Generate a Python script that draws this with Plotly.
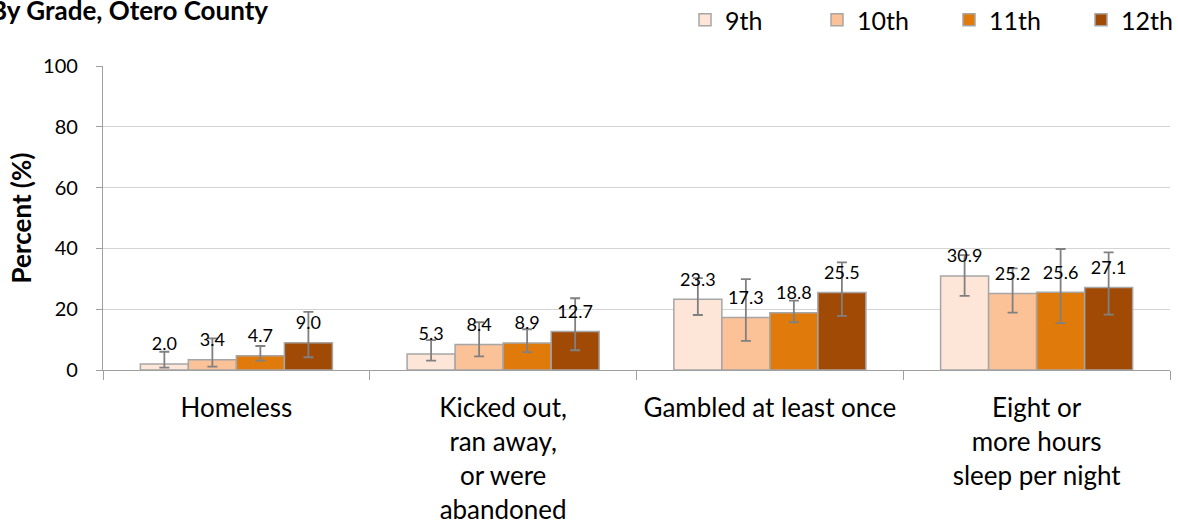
import plotly.graph_objects as go

categories = [
    "Homeless",
    "Kicked out,<br>ran away,<br>or were<br>abandoned",
    "Gambled at least once",
    "Eight or<br>more hours<br>sleep per night",
]
grades = ["9th", "10th", "11th", "12th"]

values = {
    "9th": [2.0, 5.3, 23.3, 30.9],
    "10th": [3.4, 8.4, 17.3, 25.2],
    "11th": [4.7, 8.9, 18.8, 25.6],
    "12th": [9.0, 12.7, 25.5, 27.1],
}
ci_upper = {
    "9th": [6.0, 9.8, 30.2, 37.8],
    "10th": [10.4, 15.7, 29.9, 33.4],
    "11th": [7.9, 13.4, 22.8, 39.8],
    "12th": [19.1, 23.6, 35.4, 38.7],
}
ci_lower = {
    "9th": [0.8, 3.1, 18.1, 24.4],
    "10th": [1.1, 4.5, 9.6, 18.9],
    "11th": [3.1, 5.9, 15.7, 15.4],
    "12th": [4.2, 6.5, 17.8, 18.2],
}
colors = {
    "9th": "#FDE5D7",
    "10th": "#FBC197",
    "11th": "#E07B0B",
    "12th": "#A14A06",
}

FONT = "Lato"
GAP = 0.28

fig = go.Figure()
for g in grades:
    v = values[g]
    up = [u - x for u, x in zip(ci_upper[g], v)]
    lo = [x - l for x, l in zip(v, ci_lower[g])]
    fig.add_trace(go.Bar(
        name=g,
        x=categories,
        y=v,
        marker=dict(color=colors[g], line=dict(color="#A6A6A6", width=1.5)),
        error_y=dict(type="data", symmetric=False, array=up, arrayminus=lo,
                     color="#808080", thickness=1.8, width=5),
        cliponaxis=False,
    ))

# value labels, grouped the same way as the bars
for g in grades:
    v = values[g]
    fig.add_trace(go.Scatter(
        x=categories,
        y=v,
        mode="markers+text",
        marker=dict(size=13, opacity=0),
        text=[f"{x:.1f}" for x in v],
        textposition="top center",
        textfont=dict(family=FONT, size=18, color="#000000"),
        showlegend=False,
        hoverinfo="skip",
        cliponaxis=False,
    ))

fig.update_layout(
    width=1178, height=523,
    margin=dict(l=103, r=8, t=66, b=153, autoexpand=False),
    paper_bgcolor="white", plot_bgcolor="white",
    barmode="group", bargap=GAP, bargroupgap=0,
    scattermode="group", scattergap=GAP,
    font=dict(family=FONT, size=20, color="#000000"),
    showlegend=True,
    legend=dict(orientation="h", xref="container", x=685 / 1178, xanchor="left",
                yref="container", y=1 - 20 / 523, yanchor="middle",
                font=dict(family=FONT, size=25),
                itemwidth=30, entrywidth=87, traceorder="normal",
                bgcolor="rgba(0,0,0,0)"),
    annotations=[dict(text="<b>By Grade, Otero County</b>", xref="paper", yref="paper",
                      x=-115 / 1067, y=1 + 66 / 304, xanchor="left", yanchor="top",
                      yshift=8, showarrow=False,
                      font=dict(family=FONT, size=26, color="#000000"))],
)

fig.update_yaxes(
    range=[0, 100], tickvals=[0, 20, 40, 60, 80, 100],
    showgrid=True, gridcolor="#D4D4D4", gridwidth=1.3,
    showline=True, linecolor="#A0A0A0", linewidth=1.3,
    ticks="outside", ticklen=6, tickcolor="#A0A0A0", ticklabelstandoff=14,
    tickfont=dict(family=FONT, size=20),
    title=dict(text="<b>Percent (%)</b>", font=dict(family=FONT, size=26), standoff=3),
    zeroline=False, automargin=False,
)
fig.update_xaxes(
    showline=True, linecolor="#A0A0A0", linewidth=1.3,
    ticks="outside", tickson="boundaries", ticklen=9, tickcolor="#A0A0A0",
    ticklabelstandoff=15, automargin=False,
    tickfont=dict(family=FONT, size=26),
)

fig.write_html("out.html")
